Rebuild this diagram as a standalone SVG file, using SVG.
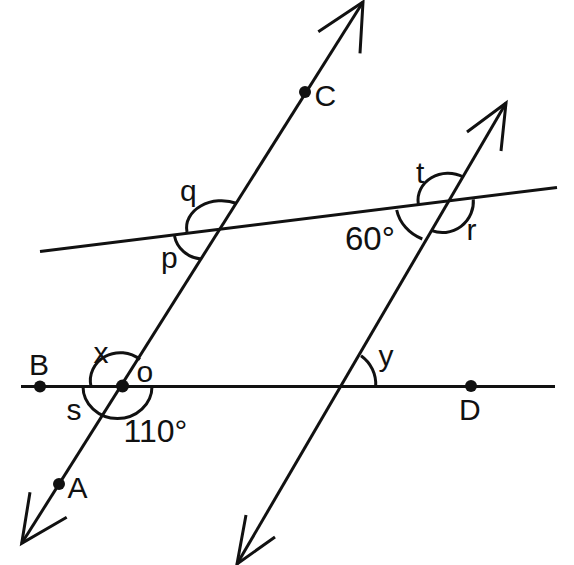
<svg xmlns="http://www.w3.org/2000/svg" width="574" height="565" viewBox="0 0 574 565">
<style>
.ln{stroke:#111;stroke-width:3;fill:none;stroke-linecap:butt}
.arc{stroke:#111;stroke-width:3;fill:none}
.pt{fill:#111}
.lb{font-family:"Liberation Sans",Arial,sans-serif;font-size:30px;fill:#111}
.n110{font-size:32px}
.n60{font-size:33px}
</style>
<rect width="574" height="565" fill="#fff"/>
<g id="connectors">
<line class="ln" x1="21.7" y1="543.3" x2="363" y2="2"/>
<polyline class="ln" points="318.3,31.7 363,2 360,53.3"/>
<polyline class="ln" points="30,492.3 21.7,543.3 66.7,517.3"/>
<line class="ln" x1="237" y1="564" x2="506" y2="103"/>
<polyline class="ln" points="467,132 506,103 501,151"/>
<polyline class="ln" points="246,515 237,564 275,537"/>
<line class="ln" x1="21" y1="386.5" x2="555" y2="386.5"/>
<line class="ln" x1="40" y1="251.6" x2="557" y2="187.5"/>
</g>
<g id="arcs">
<path class="arc" d="M140,359.5 A30,28 0 0 0 91,386.5"/>
<path class="arc" d="M83,386.5 A34.5,32 0 0 0 152,386.5"/>
<path class="arc" d="M187,232 A35,27 0 0 1 237,203.5"/>
<path class="arc" d="M174.5,236 A30,28 0 0 0 201,259"/>
<path class="arc" d="M418.3,204 A30,27 0 0 1 463.3,177"/>
<path class="arc" d="M396.7,210 A45,40 0 0 0 422.3,239"/>
<path class="arc" d="M431.7,230.7 A31,31 0 0 0 473.3,199.3"/>
<path class="arc" d="M361,355.7 A35,35 0 0 1 375.7,386.5"/>
</g>
<g id="B"><circle class="pt" cx="40" cy="386.5" r="6"/><text class="lb" x="29" y="375">B</text></g>
<g id="O"><circle class="pt" cx="122.5" cy="386" r="6.5"/><text class="lb" x="136.5" y="382">o</text></g>
<g id="C"><circle class="pt" cx="305" cy="92" r="6"/><text class="lb" x="314.5" y="106">C</text></g>
<g id="A"><circle class="pt" cx="59" cy="484" r="6"/><text class="lb" x="67.5" y="498">A</text></g>
<g id="D"><circle class="pt" cx="471" cy="386" r="6"/><text class="lb" x="459" y="420">D</text></g>
<g id="labels">
<text class="lb" x="93.5" y="363">x</text>
<text class="lb" x="66.5" y="420">s</text>
<text class="lb n110" x="123.5" y="442">110°</text>
<text class="lb" x="378.5" y="366">y</text>
<text class="lb" x="180" y="201">q</text>
<text class="lb" x="161" y="268">p</text>
<text class="lb" x="416" y="183">t</text>
<text class="lb" x="466.5" y="240">r</text>
<text class="lb n60" x="345" y="250">60°</text>
</g>
</svg>
